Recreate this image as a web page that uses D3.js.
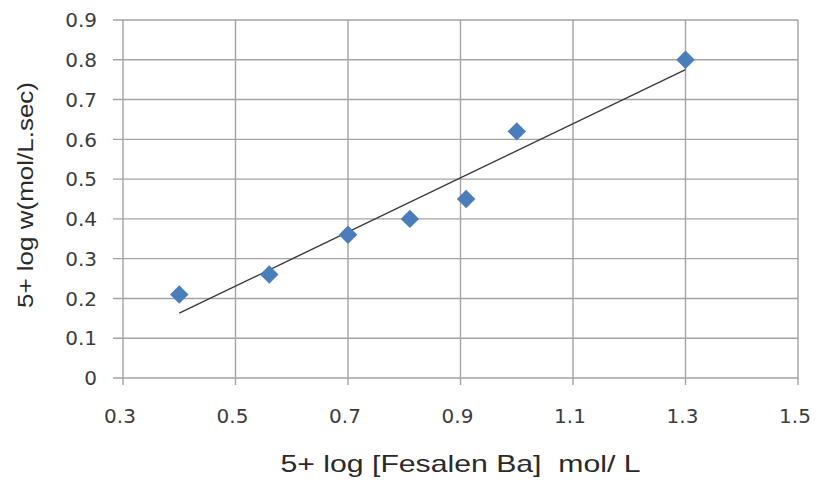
<!DOCTYPE html>
<html>
<head>
<meta charset="utf-8">
<script src="https://cdn.jsdelivr.net/npm/d3@7"></script>
<style>
  body { margin: 0; background: #fff; }
  svg text { font-family: "DejaVu Sans", Verdana, sans-serif; }
</style>
</head>
<body>
<div id="chart"></div>
<script>
// data
var xVals = [0.4, 0.56, 0.7, 0.81, 0.91, 1.0, 1.3];
var yVals = [0.21, 0.26, 0.36, 0.40, 0.45, 0.62, 0.80];
var xTicks = [0.3, 0.5, 0.7, 0.9, 1.1, 1.3, 1.5];
var yTicks = [0, 0.1, 0.2, 0.3, 0.4, 0.5, 0.6, 0.7, 0.8, 0.9];

var W = 819, H = 483;
var margin = {top: 20, right: 21, bottom: 105, left: 123};
var width = W - margin.left - margin.right;
var height = H - margin.top - margin.bottom;

var svg = d3.select("#chart")
  .append("svg")
    .attr("width", W)
    .attr("height", H)
  .append("g")
    .attr("transform", "translate(" + margin.left + "," + margin.top + ")");

var x = d3.scaleLinear().domain([0.3, 1.5]).range([0, width]);
var y = d3.scaleLinear().domain([0, 0.9]).range([height, 0]);

//gridlines + ticks
svg.append("g")
  .selectAll("line")
  .data(yTicks)
  .enter().append("line")
    .attr("x1", -10)
    .attr("x2", width)
    .attr("y1", function(d) { return y(d); })
    .attr("y2", function(d) { return y(d); })
    .attr("stroke", "#a3a3a3")
    .attr("stroke-width", 1.4);

svg.append("g")
  .selectAll("line")
  .data(xTicks)
  .enter().append("line")
    .attr("x1", function(d) { return x(d); })
    .attr("x2", function(d) { return x(d); })
    .attr("y1", 0)
    .attr("y2", height + 7)
    .attr("stroke", "#a3a3a3")
    .attr("stroke-width", 1.4);

// tick labels
svg.append("g")
  .selectAll("text")
  .data(yTicks)
  .enter().append("text")
    .attr("x", -26)
    .attr("y", function(d) { return y(d); })
    .attr("dy", "0.36em")
    .attr("text-anchor", "end")
    .attr("font-size", 20)
    .attr("fill", "#3c3c3c")
    .text(function(d) { return d3.format("")(d); });

svg.append("g")
  .selectAll("text")
  .data(xTicks)
  .enter().append("text")
    .attr("x", function(d) { return x(d) - 3; })
    .attr("y", height + 45)
    .attr("text-anchor", "middle")
    .attr("font-size", 20)
    .attr("fill", "#3c3c3c")
    .text(function(d) { return d3.format(".1f")(d); });

// axis titles
svg.append("text")
  .attr("x", x(0.9))
  .attr("y", height + 94)
  .attr("text-anchor", "middle")
  .attr("font-size", 24)
  .attr("fill", "#2a2a2a")
  .attr("textLength", 360)
  .attr("lengthAdjust", "spacingAndGlyphs")
  .style("white-space", "pre")
  .style("font-family", "'Liberation Sans', Arial, sans-serif")
  .text("5+ log [Fesalen Ba]  mol/ L");

svg.append("text")
  .attr("transform", "translate(" + (33 - margin.left) + "," + (195 - margin.top) + ") rotate(-90)")
  .attr("text-anchor", "middle")
  .attr("font-size", 22)
  .attr("fill", "#2a2a2a")
  .attr("textLength", 226)
  .attr("lengthAdjust", "spacingAndGlyphs")
  .style("font-family", "'Liberation Sans', Arial, sans-serif")
  .text("5+ log w(mol/L.sec)");

// least squares trendline
var pts = xVals.map(function(v, i) { return {x: v, y: yVals[i]}; });
var mx = d3.mean(xVals), my = d3.mean(yVals);
var sxy = d3.sum(pts, function(d) { return (d.x - mx) * (d.y - my); });
var sxx = d3.sum(pts, function(d) { return (d.x - mx) * (d.x - mx); });
var slope = sxy / sxx, icpt = my - slope * mx;
var ext = d3.extent(xVals);

svg.append("line")
  .attr("x1", x(ext[0]))
  .attr("y1", y(icpt + slope * ext[0]))
  .attr("x2", x(ext[1]))
  .attr("y2", y(icpt + slope * ext[1]))
  .attr("stroke", "#3a3a3a")
  .attr("stroke-width", 1.4);

// points
svg.append("g")
  .selectAll("path")
  .data(pts)
  .enter().append("path")
    .attr("d", d3.symbol(d3.symbolSquare, 170))
    .attr("transform", function(d) { return "translate(" + x(d.x) + "," + y(d.y) + ") rotate(45)"; })
    .attr("fill", "#4a7ebb");
</script>
</body>
</html>
